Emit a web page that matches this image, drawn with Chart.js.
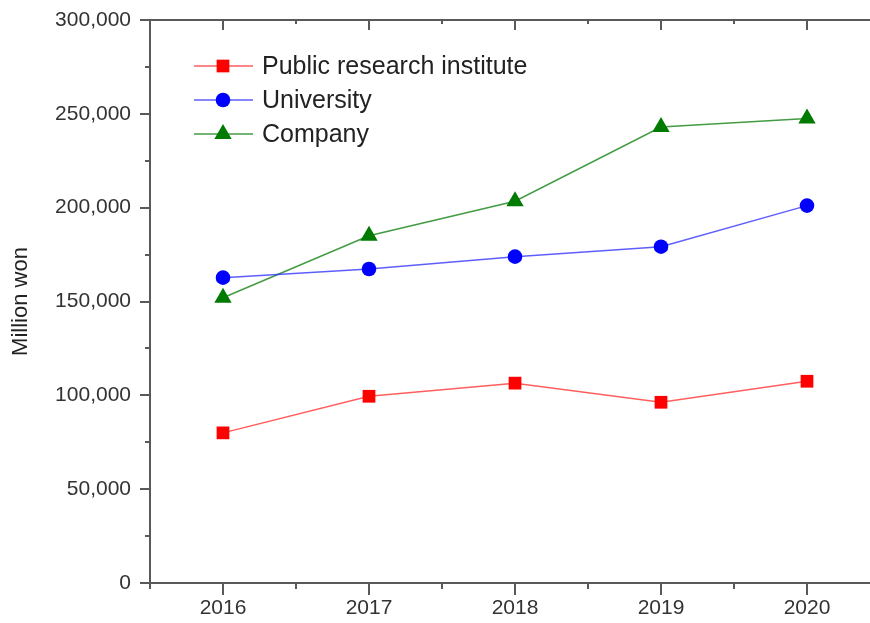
<!DOCTYPE html>
<html>
<head>
<meta charset="utf-8">
<script src="https://cdn.jsdelivr.net/npm/chart.js@4/dist/chart.umd.min.js"></script>
<style>
  html, body { margin: 0; padding: 0; background: #fff; overflow: hidden; }
  #wrap { width: 870px; height: 623px; overflow: hidden; position: relative; }
  canvas { display: block; }
</style>
</head>
<body>
<div id="wrap"><canvas id="c" width="882" height="623" style="width:882px;height:623px"></canvas></div>
<script>
// ---- data ----
const years = [2016, 2017, 2018, 2019, 2020];
const seriesNames = ["Public research institute", "University", "Company"];
const publicResearch = [80000, 99500, 106500, 96300, 107500];
const university = [162700, 167300, 173900, 179200, 201100];
const company = [152000, 185000, 203400, 243000, 247500];
const yTickValues = [0, 50000, 100000, 150000, 200000, 250000, 300000];
const yTitle = "Million won";

const FONT = "'Liberation Sans', Arial, sans-serif";
const AXIS_COLOR = "#595959";

const styles = [
  { line: "rgba(255,40,40,0.75)", fill: "#ff0000", pointStyle: "rect", radius: 9 },
  { line: "rgba(40,40,255,0.75)", fill: "#0000ff", pointStyle: "circle", radius: 7.3 },
  { line: "rgba(20,130,20,0.8)", fill: "#007a00", pointStyle: "triangle", radius: 10 }
];
const seriesValues = [publicResearch, university, company];

const datasets = seriesValues.map((vals, i) => ({
  label: seriesNames[i],
  data: years.map((yr, j) => ({ x: yr, y: vals[j] })),
  borderColor: styles[i].line,
  borderWidth: 1.5,
  backgroundColor: styles[i].fill,
  pointBackgroundColor: styles[i].fill,
  pointBorderWidth: 0,
  pointBorderColor: styles[i].fill,
  pointStyle: styles[i].pointStyle,
  pointRadius: styles[i].radius,
  pointHoverRadius: styles[i].radius,
  tension: 0,
  fill: false
}));

function drawMarker(ctx, style, radius, x, y) {
  if (Chart.helpers && Chart.helpers.drawPoint) {
    Chart.helpers.drawPoint(ctx, { pointStyle: style, radius: radius, rotation: 0, borderWidth: 0 }, x, y);
    return;
  }
  ctx.beginPath();
  if (style === "rect") {
    const s = radius * Math.SQRT1_2;
    ctx.rect(x - s, y - s, 2 * s, 2 * s);
  } else if (style === "circle") {
    ctx.arc(x, y, radius, 0, Math.PI * 2);
  } else {
    ctx.moveTo(x, y - radius);
    ctx.lineTo(x + radius * Math.sin(2 * Math.PI / 3), y + radius / 2);
    ctx.lineTo(x - radius * Math.sin(2 * Math.PI / 3), y + radius / 2);
    ctx.closePath();
  }
  ctx.fill();
}

const framePlugin = {
  id: "frame",
  afterDraw(chart) {
    const { ctx, chartArea: a, scales } = chart;
    const xs = scales.x, ys = scales.y;
    ctx.save();
    ctx.strokeStyle = AXIS_COLOR;
    ctx.lineWidth = 2;
    ctx.lineCap = "butt";
    ctx.beginPath();
    ctx.moveTo(a.left, a.top - 1); ctx.lineTo(a.left, a.bottom + 1);
    ctx.moveTo(a.left - 1, a.top); ctx.lineTo(chart.width, a.top);
    ctx.moveTo(a.left - 1, a.bottom); ctx.lineTo(chart.width, a.bottom);
    ctx.stroke();

    ctx.beginPath();
    for (let v = ys.min; v <= ys.max; v += 25000) {
      const py = Math.round(ys.getPixelForValue(v));
      const major = (v % 50000) === 0;
      const len = major ? 10 : 5;
      ctx.moveTo(a.left - len, py); ctx.lineTo(a.left, py);
    }
    for (let v = xs.min; v <= xs.max + 1e-9; v += 0.5) {
      const px = Math.round(xs.getPixelForValue(v));
      const major = Math.abs(v - Math.round(v)) < 1e-6;
      const lenB = major ? 12 : 6;
      ctx.moveTo(px, a.bottom); ctx.lineTo(px, a.bottom + lenB);
      const lenT = major ? 10 : 4;
      ctx.moveTo(px, a.top); ctx.lineTo(px, a.top + lenT);
    }
    ctx.stroke();

    const rowsY = [66, 100, 134];
    chart.data.datasets.forEach((ds, i) => {
      const y = rowsY[i];
      ctx.strokeStyle = ds.borderColor;
      ctx.lineWidth = 1.5;
      ctx.beginPath();
      ctx.moveTo(194, y); ctx.lineTo(253, y);
      ctx.stroke();
      ctx.fillStyle = ds.pointBackgroundColor;
      drawMarker(ctx, ds.pointStyle, ds.pointRadius, 223, y);
      ctx.fillStyle = "#222";
      ctx.font = "25px " + FONT;
      ctx.textBaseline = "middle";
      ctx.textAlign = "left";
      ctx.fillText(ds.label, 262, y + 1);
    });
    ctx.restore();
  }
};

new Chart(document.getElementById("c"), {
  type: "line",
  data: { datasets },
  plugins: [framePlugin],
  options: {
    responsive: false,
    devicePixelRatio: 1,
    animation: false,
    events: [],
    layout: { autoPadding: false, padding: { top: 20, right: 2, left: 0, bottom: 0 } },
    plugins: { legend: { display: false }, tooltip: { enabled: false } },
    scales: {
      x: {
        type: "linear",
        min: 2015.5,
        max: 2020.5,
        afterBuildTicks: (s) => { s.ticks = years.map(v => ({ value: v })); },
        afterFit: (s) => { s.height = 40; s.paddingLeft = 0; s.paddingRight = 0; },
        grid: { display: false, drawTicks: false },
        border: { display: false },
        ticks: {
          padding: 13,
          color: "#333",
          font: { family: FONT, size: 21 },
          callback: (v) => String(v),
          maxRotation: 0,
          autoSkip: false
        }
      },
      y: {
        type: "linear",
        min: 0,
        max: 300000,
        afterBuildTicks: (s) => { s.ticks = yTickValues.map(v => ({ value: v })); },
        afterFit: (s) => { s.width = 150; s.paddingTop = 0; s.paddingBottom = 0; },
        grid: { display: false, drawTicks: false },
        border: { display: false },
        ticks: {
          padding: 19,
          color: "#333",
          font: { family: FONT, size: 21 },
          callback: (v) => v.toLocaleString("en-US")
        },
        title: {
          display: true,
          text: yTitle,
          color: "#222",
          font: { family: FONT, size: 22 },
          padding: { top: 8, bottom: 0 }
        }
      }
    }
  }
});
</script>
</body>
</html>
